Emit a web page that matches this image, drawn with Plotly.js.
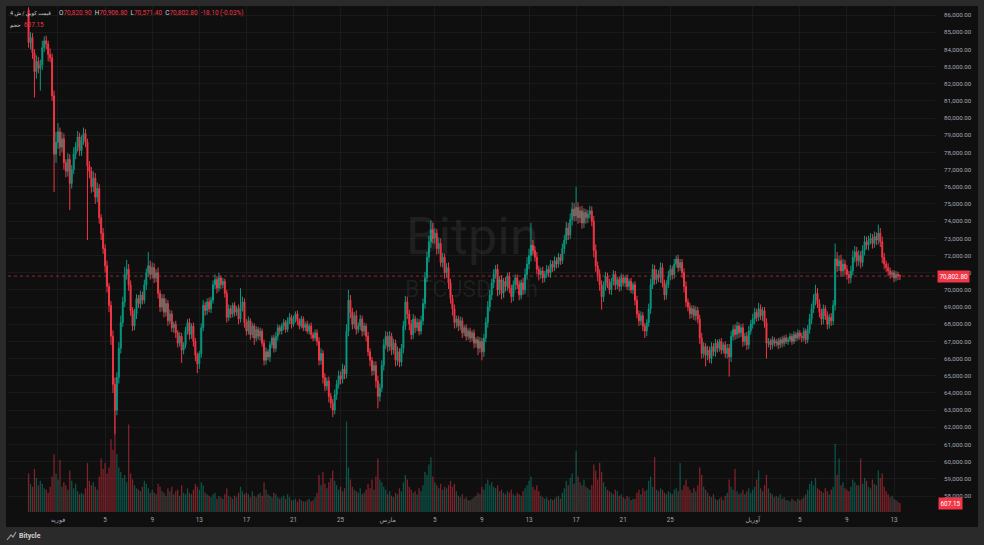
<!DOCTYPE html>
<html>
<head>
<meta charset="utf-8">
<script src="https://cdn.plot.ly/plotly-3.0.1.min.js"></script>
<style>
html,body{margin:0;padding:0;background:#2a2a2a;}
#chart{width:984px;height:545px;}
</style>
</head>
<body>
<div id="chart"></div>
<script>
// ---- DATA (BTCUSDT 4h candles) ----
const startTime = '2026-01-29T12:00:00Z';
const barHours = 4;
const firstOpen = 86300;

const closes = [
84400,84700,83800,
82700,83300,82900,83100,84100,84500,
84300,83700,83500,81300,77900,78600,
79200,78300,78800,77400,76900,77600,
76200,77000,77900,78300,78900,78100,
78700,79100,78600,77200,76900,76000,
76500,75400,75900,74200,73300,72400,
71400,70200,69100,67300,64500,63000,
64900,66600,68100,69300,70900,71200,
70300,68800,67900,68600,69500,69200,
69700,69400,70300,71000,71400,70900,
71300,70700,71000,69800,69000,69500,
68700,69200,68200,68600,67800,68000,
67500,66900,67300,66500,66800,67600,
68100,67400,67900,67000,66200,65700,
66300,67800,69100,68800,69300,68900,
69400,70300,70600,70100,70700,70300,
70500,69800,68400,68900,68600,69100,
68700,68900,68300,69000,69300,68100,
67600,68200,67400,67900,67200,67700,
67300,67600,66900,65900,66400,66100,
66800,67200,66600,67300,67800,67600,
67900,68100,67700,68200,68400,68000,
68300,68600,68200,67900,68300,67800,
68000,67600,67900,67400,67200,67500,
67000,65900,66300,64900,64400,64700,
63800,63400,63000,63900,64500,65000,
64800,65400,65100,67600,69400,68700,
68000,68500,67700,67900,68300,67600,
67900,67300,66400,65900,65300,65600,
64700,63800,64300,65600,66800,67300,
66700,67300,66500,66900,65900,66400,
65800,66600,67900,69300,68600,68000,
67400,68300,67800,68100,67600,68200,
69200,70700,71900,72800,73500,73000,
73300,72400,72700,71600,71900,71000,
71300,70400,69500,68900,68100,68300,
67900,68200,67500,67800,67300,67600,
67200,67500,66900,67100,66600,67000,
66400,67200,68100,69000,69700,70400,
70900,71200,70000,70600,69800,70500,
70200,70800,70100,69600,70300,70700,
70300,69700,70400,70000,70900,71500,
72000,72600,72300,71900,71200,70900,
71100,70700,70900,71200,71000,71500,
71300,71700,71500,71900,71700,72400,
72900,73600,73200,74100,74700,74300,
74800,74200,74600,73900,74500,74200,
74400,74600,74000,72300,71400,70900,
70300,69600,70200,70800,70400,70000,
70500,70900,70300,70600,70200,70700,
70400,70700,70200,70500,70000,70300,
69400,68600,68200,68500,67900,67600,
68100,68900,70300,71200,70600,70900,
70700,71300,70400,69700,70300,70800,
71200,70900,71500,71800,71300,71600,
71000,70200,69300,69000,68600,68900,
68500,68800,68300,67200,66300,66700,
66200,66500,66000,66700,66400,66900,
66600,67000,66500,66800,66300,66600,
66100,67300,67700,67400,67900,67500,
67800,67000,67300,66800,67600,68000,
68300,68700,68400,68900,68500,68800,
68100,66900,67000,66800,67100,66900,
67000,66800,67100,66900,67200,67000,
67100,67300,67000,67400,67200,67500,
67300,67200,67600,67100,67700,68300,
68900,69400,69800,69200,68700,68300,
68900,68500,68000,68400,68200,69100,
71800,71400,71700,71100,71500,71200,
70900,70700,71100,71900,72200,71700,
72000,71600,72300,72800,72600,72900,
73000,72700,73100,72900,73300,72800,
71900,71500,71300,71100,70900,71000,
70700,70900,70820.9,70802.8
];

const upperWicks = [
150,300,250,
200,350,250,300,400,250,
300,200,350,250,300,600,
500,250,400,300,200,350,
300,250,400,300,350,250,
300,350,250,200,300,250,
400,300,350,250,200,300,
250,300,200,250,350,400,
300,350,400,300,450,550,
300,250,200,300,250,200,
250,200,300,250,800,300,
300,250,200,300,200,250,
250,300,200,250,200,150,
200,150,250,200,150,250,
200,250,150,200,200,150,
150,250,300,200,200,250,
200,250,300,200,300,150,
200,150,200,250,200,150,
200,150,250,1100,300,200,
200,250,150,200,150,200,
150,200,150,200,250,150,
200,150,200,250,200,150,
150,200,150,200,250,150,
200,150,200,150,200,150,
150,200,150,200,150,200,
200,250,300,200,250,200,
250,200,250,300,250,300,
250,300,200,400,600,300,
250,200,300,200,250,200,
200,150,250,200,200,250,
250,300,250,300,350,300,
250,300,200,250,200,300,
200,250,300,350,300,250,
250,300,200,250,200,300,
300,350,300,350,550,400,
300,250,350,300,250,200,
250,300,250,200,250,200,
200,250,200,150,200,150,
200,150,200,150,200,250,
200,250,300,350,300,250,
300,250,300,200,250,200,
250,200,250,200,250,200,
200,250,200,300,350,400,
400,1300,300,250,300,200,
200,250,200,250,200,250,
200,250,200,250,200,300,
300,350,300,350,400,350,
1200,300,250,300,250,200,
250,300,250,300,350,250,
300,250,300,250,200,250,
200,250,200,150,200,250,
200,150,200,150,200,150,
200,250,200,250,200,150,
200,300,350,300,250,300,
250,300,250,200,250,300,
250,200,300,200,250,200,
200,250,300,200,250,200,
200,250,200,250,300,250,
200,250,200,250,200,250,
200,150,200,150,200,250,
250,300,250,300,250,200,
200,250,200,250,300,250,
300,250,200,350,250,200,
200,250,200,150,200,150,
150,200,150,200,150,200,
150,200,150,200,150,200,
150,200,200,150,250,300,
300,350,500,300,250,200,
250,200,250,200,250,300,
900,400,300,350,300,250,
250,200,300,400,350,300,
300,250,300,350,300,250,
300,250,300,250,500,300,
300,250,200,250,200,150,
150,200,150,85.9
];

const lowerWicks = [
300,400,350,
1500,400,300,1300,300,250,
300,400,250,300,2200,500,
400,500,300,400,350,300,
1550,300,250,300,250,300,
300,250,300,4300,400,350,
300,400,300,350,400,300,
400,350,400,500,500,1400,
300,350,300,250,300,300,
350,300,300,250,300,250,
300,250,200,300,250,300,
250,300,250,300,300,250,
300,250,300,200,250,300,
300,250,200,750,250,200,
200,300,250,300,350,550,
300,250,200,300,250,200,
250,200,250,300,200,250,
200,250,300,200,250,200,
250,200,300,200,250,300,
250,200,300,200,400,200,
200,250,200,300,250,200,
300,200,250,200,250,200,
200,250,200,150,200,250,
150,200,250,200,150,200,
200,150,200,250,200,150,
250,300,250,350,300,250,
350,300,400,250,300,250,
300,250,300,250,300,350,
300,250,300,200,250,300,
250,300,250,350,300,250,
400,700,300,250,300,250,
300,250,300,250,350,300,
300,250,300,250,300,350,
300,250,300,200,250,200,
250,300,250,300,350,300,
300,350,300,250,300,350,
300,350,300,400,350,300,
300,250,300,200,250,200,
250,200,300,250,400,250,
500,300,250,300,250,300,
300,250,350,300,350,250,
300,250,300,350,250,300,
250,300,250,300,250,300,
300,350,300,250,300,350,
250,300,250,200,250,300,
250,200,250,200,250,200,
300,250,300,250,350,300,
300,350,300,350,300,350,
300,250,300,400,350,400,
350,750,300,250,300,250,
300,250,300,250,300,250,
200,250,200,250,200,250,
300,250,300,250,300,400,
300,250,300,250,300,250,
250,300,250,300,250,200,
250,300,250,200,250,200,
300,350,300,250,300,250,
250,300,250,350,300,250,
650,300,250,300,250,300,
250,200,250,200,250,300,
1150,300,250,300,250,300,
250,300,250,300,250,200,
250,300,250,200,250,300,
300,900,250,300,250,200,
200,250,200,250,200,150,
200,150,200,150,200,150,
200,250,200,250,200,250,
300,250,300,250,300,350,
300,250,300,250,300,250,
300,350,300,350,300,350,
300,350,300,250,300,350,
300,350,250,300,250,300,
250,300,250,300,250,300,
350,300,250,300,250,200,
250,200,250,231.4
];

const volumes = [
2600,1900,1700,
2900,2300,1800,2100,1900,1600,
1500,1300,1700,2400,3900,2600,
2200,3500,1700,2000,1800,1500,
2800,2100,1600,1900,1400,1200,
1300,1200,1600,3300,2100,1800,
2000,1700,1500,2400,3600,2900,
3300,2600,3000,4900,4200,6900,
3900,3000,2700,2300,2500,2000,
5900,2600,2200,1800,1600,1500,
1400,1700,2100,1900,1600,1300,
1500,1300,1200,1900,1700,1400,
1300,1100,1600,1400,1700,1200,
1400,1500,1100,1800,1300,1200,
1600,1300,1200,1500,1900,1700,
1500,2000,1800,1300,1200,1100,
1000,1200,1300,900,1100,1000,
900,1200,1600,1100,1000,900,
1100,1000,1300,1700,1400,1200,
1300,1200,1000,1400,1100,1000,
1200,1300,1100,2000,1500,1200,
1100,1000,1300,1200,1000,900,
1000,1100,900,1200,1000,800,
800,900,700,900,800,700,
700,800,900,700,800,1000,
1300,2500,1800,2700,1900,1600,
2000,2300,2800,2100,1800,1500,
1700,1400,1600,6100,3000,2200,
1700,1500,1400,1300,1600,1200,
1300,1500,1900,1600,2200,1500,
2400,3600,2200,2000,1700,1500,
1200,1400,1100,1000,1300,1200,
1600,1400,2000,2500,2200,1700,
1500,1300,1400,1200,1600,1400,
1800,2700,2500,3200,3700,2400,
2000,1800,1600,1900,1500,1700,
1600,1800,2100,1700,1900,1400,
1100,1000,1200,900,1000,800,
800,900,1000,1100,1300,1200,
1700,1500,1900,2200,1800,2000,
1700,1600,1800,1400,1500,1300,
1200,1400,1300,1500,1200,1100,
1300,1200,1100,1400,1600,1800,
2100,2400,1700,1500,1800,1400,
1100,1000,900,1000,800,900,
800,900,1000,1100,900,1300,
1600,2100,1800,2300,2600,1900,
4100,2400,2000,1800,2200,1700,
1600,1500,1800,3200,2800,2200,
3300,2700,2000,1700,1500,1400,
1300,1200,1500,1400,1100,1200,
1000,900,1100,1000,800,900,
900,1300,1500,1200,1600,1400,
1500,2100,2400,1700,3700,1500,
1400,1600,1500,1300,1200,1400,
1300,1200,1500,1600,1400,3300,
1500,1800,2200,1700,1500,1300,
1600,1400,1800,3000,2500,1700,
1500,1300,1100,1000,1200,900,
800,900,1000,800,1100,1300,
2200,1700,1500,2900,1400,1200,
1300,1500,1200,1400,1600,1300,
1500,1700,2200,2800,1600,1400,
1800,2500,1600,1300,1200,1000,
1100,1000,1200,900,1000,800,
800,700,900,800,700,900,
800,900,1000,1200,1500,1900,
2100,1800,2300,1600,1500,1400,
1300,1600,1400,1200,1500,1700,
4600,2500,3600,1800,2000,1600,
1500,1400,1700,2200,2000,1800,
1800,3600,1900,2300,2100,1700,
1600,2200,1900,1800,2800,2300,
2600,1700,1400,1200,1000,1100,
900,800,700,607.15
];

const tickDates = ['2026-02-01','2026-02-05','2026-02-09','2026-02-13','2026-02-17','2026-02-21','2026-02-25',
  '2026-03-01','2026-03-05','2026-03-09','2026-03-13','2026-03-17','2026-03-21','2026-03-25',
  '2026-04-01','2026-04-05','2026-04-09','2026-04-13'];
const tickLabels = ['فوریه','5','9','13','17','21','25','مارس','5','9','13','17','21','25','آوریل','5','9','13'];

const legendTitle = '4 قیمت کوین / ش';
const volumeLabel = 'حجم';
const watermark1 = 'Bitpin';
const watermark2 = 'BTCUSDT, 4h';
const brand = 'Bitycle';

// ---- BUILD ----
const n = closes.length;
if (upperWicks.length !== n || lowerWicks.length !== n || volumes.length !== n) {
  throw new Error('length mismatch ' + n + ' ' + upperWicks.length + ' ' + lowerWicks.length + ' ' + volumes.length);
}
const t0 = Date.parse(startTime);
const xs = [], opens = [], highs = [], lows = [], volColors = [];
for (let i = 0; i < n; i++) {
  xs.push(new Date(t0 + i * barHours * 3600e3).toISOString().slice(0, 16).replace('T', ' '));
  const o = i === 0 ? firstOpen : closes[i - 1];
  opens.push(o);
  highs.push(Math.max(o, closes[i]) + upperWicks[i]);
  lows.push(Math.min(o, closes[i]) - lowerWicks[i]);
  volColors.push(closes[i] >= o ? 'rgba(8,153,129,0.5)' : 'rgba(242,54,69,0.5)');
}
const fmt = v => v.toLocaleString('en-US', {minimumFractionDigits: 2, maximumFractionDigits: 2});
const last = n - 1;
const chg = closes[last] - opens[last];
const pct = chg / opens[last] * 100;

const UP = '#089981', DOWN = '#f23645';
const FONT = 'Roboto, "DejaVu Sans", sans-serif';
const AX = '#a3a6af';
const GRID = '#1a1a1a';

const traces = [
  {
    type: 'bar', x: xs, y: volumes, yaxis: 'y', xaxis: 'x',
    marker: {color: volColors, line: {width: 0}},
    hoverinfo: 'skip'
  },
  {
    type: 'candlestick', x: xs, open: opens, high: highs, low: lows, close: closes,
    yaxis: 'y2', xaxis: 'x',
    increasing: {line: {color: UP, width: 1}, fillcolor: UP},
    decreasing: {line: {color: DOWN, width: 1}, fillcolor: DOWN},
    whiskerwidth: 0,
    hoverinfo: 'skip'
  }
];

// pixel helpers for paper coords (plot area x:8..935, y:6..512)
const px = x => (x - 8) / 927;
const py = y => (512 - y) / 506;

const lbl = (c, t) => '<span style="color:#d1d4dc">' + c + '</span><span style="color:' + DOWN + '">' + t + '</span>';
const ohlc = lbl('O', fmt(opens[last])) + '  ' + lbl('H', fmt(highs[last])) + '  ' +
  lbl('L', fmt(lows[last])) + '  ' + lbl('C', fmt(closes[last])) + '  ' +
  '<span style="color:' + DOWN + '">' + (chg < 0 ? '-' : '+') + fmt(Math.abs(chg)) + ' (' + (pct < 0 ? '-' : '+') + Math.abs(pct).toFixed(2) + '%)</span>';

const layout = {
  width: 984, height: 545,
  margin: {l: 8, r: 49, t: 6, b: 33, pad: 0},
  paper_bgcolor: '#2a2a2a',
  plot_bgcolor: '#0f0f0f',
  showlegend: false,
  bargap: 0.35,
  font: {family: FONT, color: AX},
  xaxis: {
    type: 'date',
    range: ['2026-01-27 18:06', '2026-04-16 11:31'],
    tickvals: tickDates, ticktext: tickLabels,
    showgrid: true, gridcolor: GRID, gridwidth: 1,
    zeroline: false, showline: false, ticks: '',
    tickfont: {family: FONT, size: 6.4, color: AX},
    ticklabelstandoff: 3,
    rangeslider: {visible: false},
    fixedrange: true
  },
  yaxis: {
    range: [0, 34127], visible: false, fixedrange: true, showgrid: false, zeroline: false
  },
  yaxis2: {
    overlaying: 'y', side: 'right', anchor: 'x',
    range: [57071, 86524], dtick: 1000, tick0: 0, tickformat: ',.2f',
    showgrid: true, gridcolor: GRID, gridwidth: 1,
    zeroline: false, showline: false, ticks: '',
    tickfont: {family: FONT, size: 6.2, color: AX},
    ticklabelstandoff: 8,
    fixedrange: true
  },
  shapes: [
    {type: 'rect', xref: 'paper', yref: 'paper', x0: px(6), x1: px(978), y0: py(527), y1: py(6),
     fillcolor: '#0f0f0f', line: {width: 0}, layer: 'below'},
    {type: 'line', xref: 'paper', yref: 'y2', x0: 0, x1: 1, y0: closes[last], y1: closes[last],
     line: {color: 'rgba(242,54,69,0.6)', width: 1, dash: 'dot'}},
    {type: 'path', xref: 'paper', yref: 'paper',
     path: 'M ' + px(7) + ',' + py(540) + ' L ' + px(11) + ',' + py(535) + ' L ' + px(13) + ',' + py(537) + ' L ' + px(16) + ',' + py(532),
     line: {color: '#9a9a9a', width: 1.2}}
  ],
  annotations: [
    {xref: 'paper', yref: 'paper', x: px(472), y: py(236), text: watermark1, showarrow: false,
     font: {family: 'Roboto, sans-serif', size: 52, color: 'rgba(255,255,255,0.065)'}},
    {xref: 'paper', yref: 'paper', x: px(471), y: py(289), text: watermark2, showarrow: false,
     font: {family: 'Roboto, sans-serif', size: 23, color: 'rgba(255,255,255,0.065)'}},
    {xref: 'paper', yref: 'paper', x: px(8), y: py(13), xanchor: 'left', yanchor: 'middle',
     text: legendTitle, showarrow: false, font: {family: FONT, size: 5.4, color: '#d1d4dc'}},
    {xref: 'paper', yref: 'paper', x: px(57), y: py(13), xanchor: 'left', yanchor: 'middle',
     text: ohlc, showarrow: false, font: {family: FONT, size: 6.4, color: DOWN}},
    {xref: 'paper', yref: 'paper', x: px(8), y: py(25), xanchor: 'left', yanchor: 'middle',
     text: volumeLabel, showarrow: false, font: {family: FONT, size: 5.6, color: '#d1d4dc'}},
    {xref: 'paper', yref: 'paper', x: px(22), y: py(25), xanchor: 'left', yanchor: 'middle',
     text: fmt(volumes[last]), showarrow: false, font: {family: FONT, size: 6.4, color: DOWN}},
    {xref: 'paper', yref: 'y2', x: px(937), y: closes[last], xanchor: 'left', yanchor: 'middle',
     text: fmt(closes[last]), showarrow: false, bgcolor: DOWN, borderpad: 1.5,
     font: {family: FONT, size: 6.4, color: '#ffffff'}},
    {xref: 'paper', yref: 'y', x: px(938), y: volumes[last], xanchor: 'left', yanchor: 'middle',
     text: fmt(volumes[last]), showarrow: false, bgcolor: DOWN, borderpad: 1.5,
     font: {family: FONT, size: 6.4, color: '#ffffff'}},
    {xref: 'paper', yref: 'paper', x: px(17), y: py(536), xanchor: 'left', yanchor: 'middle',
     text: '<b>' + brand + '</b>', showarrow: false, font: {family: FONT, size: 7, color: '#cfcfcf'}}
  ]
};

Plotly.newPlot('chart', traces, layout, {staticPlot: true, displayModeBar: false});
</script>
</body>
</html>
